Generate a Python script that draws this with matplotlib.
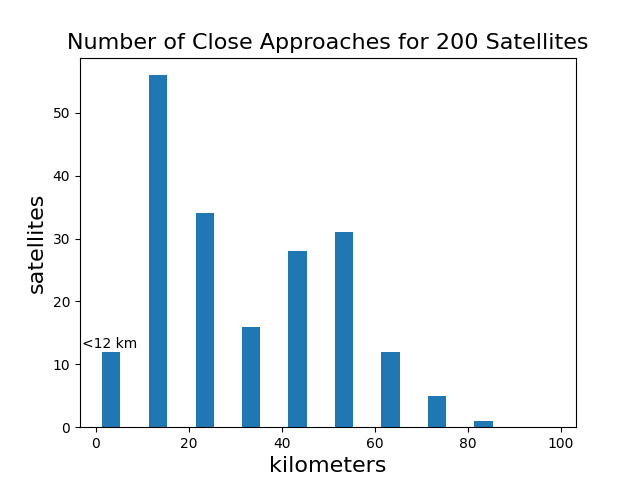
import matplotlib
matplotlib.use("Agg")
import matplotlib.pyplot as plt

centers = [3.3, 13.4, 23.4, 33.4, 43.4, 53.4, 63.4, 73.4, 83.4]
counts = [12, 56, 34, 16, 28, 31, 12, 5, 1]

fig, ax = plt.subplots(figsize=(6.4, 4.8), dpi=100)
ax.bar(centers, counts, width=3.9, color="#1f77b4")
ax.set_xlim(-3.4, 103.3)
ax.set_ylim(0, 58.8)
ax.set_xticks([0, 20, 40, 60, 80, 100])
ax.text(-3, 12.6, "<12 km", fontsize=10)
ax.set_title("Number of Close Approaches for 200 Satellites", fontsize=16)
ax.set_xlabel("kilometers", fontsize=16)
ax.set_ylabel("satellites", fontsize=16)
fig.savefig("out.png")
